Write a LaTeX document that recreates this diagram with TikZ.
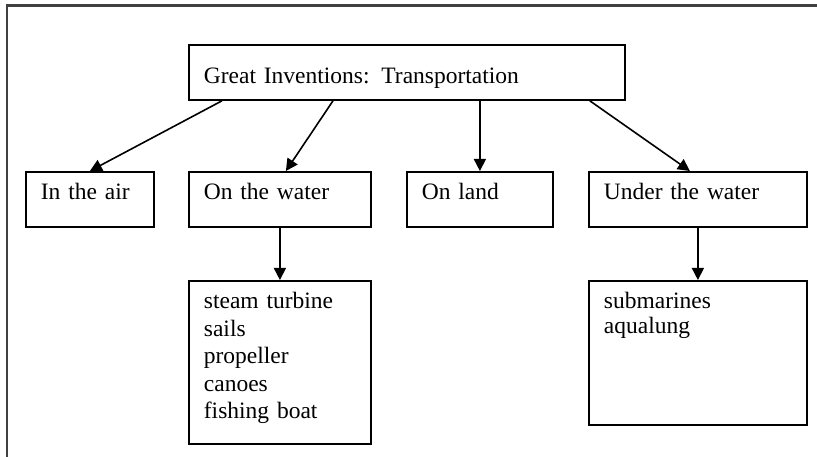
\documentclass[tikz,border=0pt]{standalone}
\usepackage{fontspec}
\setmainfont{Liberation Serif}
\usetikzlibrary{arrows.meta}
\tikzset{
  box/.style={draw, line width=1.8pt, anchor=north west, inner xsep=15pt, inner ysep=0pt,
    align=left, font=\fontsize{23.5}{27.5}\selectfont, text height=28pt, text depth=27pt},
  arr/.style={line width=1.6pt, -{Triangle[length=12pt,width=12pt]}},
  frame/.style={line width=2.2pt, gray!50!black}
}
\begin{document}
\begin{tikzpicture}[x=1pt,y=-1pt]
  \useasboundingbox (0,0) rectangle (817,457);
  % frame round the page
  \draw [frame] (7,457) -- (7,5.5) -- (817,5.5);
  % top box
  \node [box, text width=406pt, text height=39pt, text depth=16pt] (title) at (188,44) {Great Inventions: Transportation};
  % second row
  \node [box, text width=98pt] (air) at (25,171) {In the air};
  \node [box, text width=152pt] (water) at (188,171) {On the water};
  \node [box, text width=116pt] (land) at (406,171) {On land};
  \node [box, text width=188pt] (under) at (588,171) {Under the water};
  % lists
  \node [box, text width=152pt, text depth=135pt] (waterlist) at (188,280)
    {steam turbine\\sails\\propeller\\canoes\\fishing boat};
  \node [box, text width=188pt, text depth=116pt, font=\fontsize{23.5}{25}\selectfont] (underlist) at (588,280)
    {submarines\\aqualung};
  % arrows
  \draw [arr] ([xshift=34pt]title.south west) -- (air.north);
  \draw [arr] ([xshift=145pt]title.south west) -- ([xshift=6pt]water.north);
  \draw [arr] (title.south -| land.north) -- (land.north);
  \draw [arr] ([xshift=-36pt]title.south east) -- ([xshift=-8pt]under.north);
  \draw [arr] (water.south) -- (waterlist.north);
  \draw [arr] (under.south) -- (underlist.north);
\end{tikzpicture}
\end{document}
